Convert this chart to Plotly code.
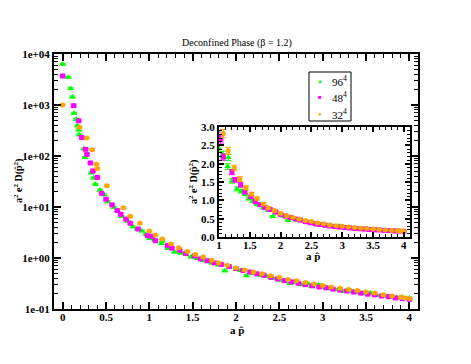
import plotly.graph_objects as go

# 96^4 lattice
g_x = [0.0, 0.065, 0.092, 0.113, 0.131, 0.155, 0.17, 0.185, 0.19, 0.245, 0.257, 0.33, 0.354,
       0.377, 0.43, 0.48, 0.52, 0.59, 0.68, 0.75, 0.81, 0.86, 0.915, 0.96, 1.0, 1.06, 1.14,
       1.15, 1.21, 1.29, 1.36, 1.42, 1.48, 1.55, 1.62, 1.66, 1.72, 1.80, 1.87, 1.92, 2.0,
       2.05, 2.12, 2.2, 2.28, 2.35, 2.42, 2.5, 2.56, 2.62, 2.68, 2.75, 2.82, 2.87, 2.95,
       3.02, 3.1, 3.18, 3.25, 3.33, 3.4, 3.48, 3.55, 3.62, 3.7, 3.78, 3.85, 3.92, 4.0]
g_y = [6300, 3500, 2100, 1440, 690, 525, 390, 325, 260, 138, 94, 47, 37,
       28, 21.5, 17.4, 12.7, 9.8, 6.6, 5.3, 4.1, 3.7, 3.4, 2.9, 2.42, 2.25, 1.92,
       2.17, 1.53, 1.31, 1.25, 1.18, 1.05, 0.98, 0.90, 0.87, 0.80, 0.73, 0.56, 0.66, 0.60,
       0.57, 0.45, 0.50, 0.46, 0.44, 0.40, 0.37, 0.36, 0.32, 0.34, 0.30, 0.32, 0.28, 0.30,
       0.27, 0.25, 0.24, 0.22, 0.225, 0.21, 0.20, 0.205, 0.185, 0.18, 0.17, 0.165, 0.17, 0.165]

# 48^4 lattice
m_x = [0.0, 0.127, 0.185, 0.22, 0.265, 0.28, 0.32, 0.35, 0.40, 0.45, 0.50, 0.57, 0.63, 0.67,
       0.73, 0.78, 0.87, 0.98, 1.03, 1.07, 1.21, 1.26, 1.35, 1.42, 1.52, 1.59, 1.67, 1.75,
       1.83, 1.92, 2.0, 2.08, 2.16, 2.24, 2.32, 2.40, 2.48, 2.56, 2.64, 2.72, 2.80, 2.88,
       2.96, 3.04, 3.12, 3.20, 3.28, 3.36, 3.44, 3.52, 3.60, 3.68, 3.76, 3.84, 3.92, 4.0]
m_y = [3700, 970, 490, 230, 135, 107, 73, 51, 38, 18.5, 14.2, 11, 8.5, 7.2,
       5.8, 4.8, 3.7, 2.75, 2.67, 2.18, 1.77, 1.56, 1.42, 1.23, 1.10, 0.96, 0.88, 0.80,
       0.75, 0.68, 0.62, 0.57, 0.53, 0.49, 0.46, 0.42, 0.39, 0.36, 0.34, 0.32, 0.30, 0.285,
       0.27, 0.26, 0.245, 0.235, 0.225, 0.215, 0.205, 0.195, 0.19, 0.18, 0.175, 0.165, 0.16, 0.155]

# 32^4 lattice
o_x = [0.0, 0.196, 0.277, 0.34, 0.39, 0.40, 0.51, 0.70, 0.78, 0.89, 1.0, 1.07, 1.15, 1.25,
       1.34, 1.44, 1.53, 1.62, 1.72, 1.80, 1.90, 2.0, 2.1, 2.2, 2.3, 2.4, 2.5, 2.6, 2.7,
       2.8, 2.9, 3.0, 3.1, 3.2, 3.3, 3.4, 3.5, 3.6, 3.7, 3.8, 3.9, 3.95, 4.0]
o_y = [1000, 365, 225, 132, 69, 57, 26, 9.7, 6.6, 4.8, 3.4, 2.82, 2.35, 1.88,
       1.58, 1.34, 1.17, 1.05, 0.90, 0.80, 0.72, 0.64, 0.58, 0.53, 0.49, 0.45, 0.42, 0.38, 0.36,
       0.33, 0.31, 0.29, 0.27, 0.255, 0.24, 0.23, 0.215, 0.205, 0.19, 0.18, 0.17, 0.165, 0.16]

series = [
    ('96', g_x, g_y, '#00ff00', 'triangle-up', '▲'),
    ('48', m_x, m_y, '#ff00ff', 'square', '■'),
    ('32', o_x, o_y, '#ffa500', 'circle', '●'),
]

log_ticks = [0.1, 1, 10, 100, 1000, 10000]
log_labels = ['1e-01', '1e+00', '1e+01', '1e+02', '1e+03', '1e+04']

FONT = 'Liberation Serif, Times New Roman, serif'
# the page body adds an 8px margin, so the figure is drawn 8px smaller and shifted
OFF = 8
W, H = 471 - OFF, 364 - OFF


def px(x):
    return (x - OFF) / W


def py(y):
    return 1 - (y - OFF) / H


fig = go.Figure()
for name, xs, ys, col, sym, glyph in series:
    for ax in ('', '2'):
        fig.add_trace(go.Scatter(
            x=xs, y=ys, mode='markers', name=name, showlegend=False,
            xaxis='x' + ax, yaxis='y' + ax,
            marker=dict(color=col, symbol=sym, size=5 if sym != 'triangle-up' else 6),
            error_y=dict(type='percent', value=4, color=col, thickness=1, width=3),
        ))

axis_common = dict(showline=True, linecolor='black', linewidth=2, mirror='allticks',
                   ticks='inside', ticklen=7, tickwidth=1.5, tickcolor='black',
                   showgrid=False, zeroline=False, automargin=False,
                   tickfont=dict(family=FONT, size=11, color='black', weight='bold'))

fig.update_layout(
    width=W, height=H,
    margin=dict(l=0, r=0, t=0, b=0, pad=0),
    paper_bgcolor='white', plot_bgcolor='white',
    font=dict(family=FONT, color='black'),
    showlegend=False,
    xaxis=dict(domain=[px(54), px(418)], range=[-0.1, 4.1], dtick=0.5, tick0=0,
               ticklabelstandoff=-3,
               minor=dict(dtick=0.1, ticks='inside', ticklen=4, tickcolor='black', tickwidth=1),
               **axis_common),
    yaxis=dict(domain=[py(309), py(54)], type='log', range=[-1, 4],
               tickvals=log_ticks, ticktext=log_labels,
               minor=dict(dtick='D1', ticks='inside', ticklen=4, tickcolor='black', tickwidth=1),
               **axis_common),
    xaxis2=dict(domain=[px(219), px(410)], range=[1, 4.1], dtick=0.5, tick0=1, anchor='y2',
                ticklabelstandoff=-3,
                minor=dict(dtick=0.1, ticks='inside', ticklen=3, tickcolor='black', tickwidth=1),
                **{**axis_common, 'ticklen': 5}),
    yaxis2=dict(domain=[py(237), py(127)], range=[0, 3], dtick=0.5, tickformat='.1f',
                anchor='x2',
                minor=dict(dtick=0.1, ticks='inside', ticklen=3, tickcolor='black', tickwidth=1),
                **{**axis_common, 'ticklen': 5}),
)


def text(t, x, y, size, angle=0, color='black', anchor='center'):
    fig.add_annotation(text=t, x=px(x), y=py(y), xref='paper', yref='paper',
                       showarrow=False, xanchor=anchor, yanchor='middle', textangle=angle,
                       font=dict(family=FONT, size=size, color=color))


text('Deconfined Phase (β = 1.2)', 237, 43, 10)
text('<b>a p̂</b>', 237, 330, 11)
text('<b>a p̂</b>', 313, 256, 11)
text('<b>a<sup>2</sup> e<sup>2</sup> D(p̂<sup>2</sup>)</b>', 18, 181, 10, angle=-90)
text('<b>a<sup>2</sup> e<sup>2</sup> D(p̂<sup>2</sup>)</b>', 193, 182, 10, angle=-90)

# legend box
fig.add_shape(type='rect', xref='paper', yref='paper',
              x0=px(309), x1=px(351), y0=py(121), y1=py(72),
              line=dict(color='black', width=1), fillcolor='white')
for i, (name, xs, ys, col, sym, glyph) in enumerate(series):
    yy = 81 + i * 16.5
    text(glyph, 320, yy, 6, color=col)
    text(name + '<sup>4</sup>', 330, yy, 11, anchor='left')

fig.write_html("out.html")
